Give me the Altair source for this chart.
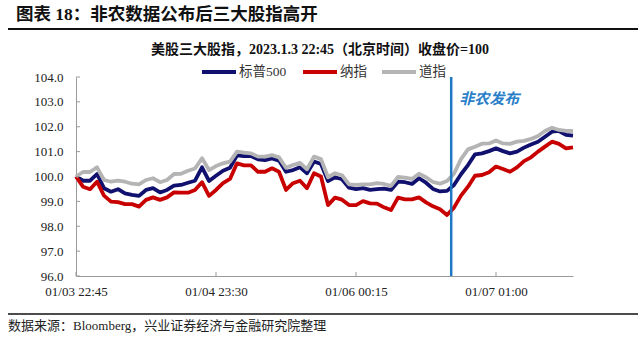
import altair as alt
import pandas as pd

# ---------------- data ----------------
SERIES = ["标普500", "纳指", "道指"]
COLORS = ["#10106e", "#c80000", "#b4b4b4"]

SP500 = [100.0, 99.83, 99.83, 100.10, 99.53, 99.39, 99.49, 99.32, 99.26, 99.22,
         99.46, 99.53, 99.36, 99.46, 99.63, 99.66, 99.75, 99.83, 100.37, 99.82,
         100.03, 100.23, 100.35, 100.85, 100.82, 100.82, 100.69, 100.66, 100.73, 100.64,
         100.19, 100.26, 100.37, 100.13, 100.60, 100.50, 99.82, 99.97, 99.89, 99.55,
         99.49, 99.53, 99.46, 99.49, 99.51, 99.46, 99.79, 99.77, 99.70, 99.93,
         99.75, 99.50, 99.40, 99.42, 99.66, 100.09, 100.46, 100.89, 100.93, 101.02,
         101.13, 101.02, 100.93, 101.00, 101.16, 101.29, 101.40, 101.60, 101.80, 101.83,
         101.67, 101.64]

NASDAQ = [100.0, 99.59, 99.49, 99.79, 99.23, 98.99, 98.97, 98.89, 98.89, 98.79,
          99.06, 99.16, 99.06, 99.16, 99.36, 99.35, 99.35, 99.46, 99.77, 99.22,
          99.46, 99.73, 99.90, 100.53, 100.45, 100.45, 100.19, 100.19, 100.33, 100.19,
          99.46, 99.73, 99.83, 99.53, 100.13, 100.00, 98.85, 99.15, 99.07, 98.85,
          98.85, 99.01, 98.92, 98.91, 98.76, 98.65, 99.15, 99.08, 99.08, 99.16,
          98.96, 98.80, 98.68, 98.45, 98.75, 99.23, 99.59, 100.03, 100.06, 100.17,
          100.40, 100.30, 100.19, 100.37, 100.62, 100.77, 101.00, 101.20, 101.40, 101.31,
          101.13, 101.17]

DOW = [100.0, 100.18, 100.18, 100.37, 99.86, 99.79, 99.83, 99.79, 99.71, 99.68,
       99.86, 99.93, 99.77, 99.86, 100.10, 100.11, 100.23, 100.32, 100.73, 100.26,
       100.42, 100.53, 100.60, 101.00, 100.96, 100.93, 100.80, 100.80, 100.86, 100.77,
       100.35, 100.46, 100.55, 100.29, 100.80, 100.70, 99.97, 100.13, 100.05, 99.68,
       99.66, 99.68, 99.68, 99.73, 99.70, 99.62, 99.98, 99.95, 99.90, 100.11,
       99.97, 99.78, 99.71, 99.82, 100.11, 100.70, 101.09, 101.20, 101.32, 101.33,
       101.45, 101.33, 101.31, 101.40, 101.43, 101.51, 101.63, 101.83, 101.96, 101.87,
       101.83, 101.83]

X_TICK_POS = [0, 20, 40, 60]
X_TICK_LABELS = ["01/03 22:45", "01/04 23:30", "01/06 00:15", "01/07 01:00"]
Y_TICKS = [96, 97, 98, 99, 100, 101, 102, 103, 104]
RELEASE_X = 53.6
RELEASE_LABEL = "非农发布"
RELEASE_LABEL_Y = 103.1

TITLE = "图表 18：非农数据公布后三大股指高开"
SUBTITLE = "美股三大股指，2023.1.3 22:45（北京时间）收盘价=100"
SOURCE = "数据来源：Bloomberg，兴业证券经济与金融研究院整理"

# legend layout (pixels relative to the plot's left edge)
LEGEND_SYMBOL_X = [126, 227, 306]
LEGEND_SYMBOL_LEN = 34
LEGEND_Y = -5

# ---------------- build ----------------
rows = []
for name, vals in zip(SERIES, [SP500, NASDAQ, DOW]):
    for i, v in enumerate(vals):
        rows.append({"i": i, "series": name, "value": v})
df = pd.DataFrame(rows)

FONT = "Liberation Serif, Noto Sans CJK SC"
AXIS_COLOR = "#9a9a9a"
W, H = 497, 199

label_expr = " : ".join(
    f"datum.value == {p} ? '{t}'" for p, t in zip(X_TICK_POS, X_TICK_LABELS)
) + " : ''"

x_scale = alt.Scale(domain=[0, len(SP500) - 1], nice=False, zero=False)
y_scale = alt.Scale(domain=[Y_TICKS[0], Y_TICKS[-1]], nice=False, zero=False)
color_scale = alt.Scale(domain=SERIES, range=COLORS)

x_axis = alt.Axis(values=X_TICK_POS, labelExpr=label_expr, title=None,
                  grid=False, tickSize=0, labelPadding=9,
                  domainColor=AXIS_COLOR, labelFontSize=13, labelFont=FONT,
                  labelColor="#222222", labelFlush=False, labelOverlap=False)
y_axis = alt.Axis(values=Y_TICKS, format=".1f", title=None, grid=False,
                  tickSize=0, labelPadding=13, domainColor=AXIS_COLOR,
                  labelFontSize=13, labelFont=FONT, labelColor="#222222",
                  labelOverlap=False, labelFlush=False)


def X(field):
    return alt.X(field, scale=x_scale, axis=x_axis, title=None)


def Y(field):
    return alt.Y(field, scale=y_scale, axis=y_axis, title=None)


lines = alt.Chart(df).mark_line(strokeWidth=3.8, strokeJoin="round").encode(
    x=X("i:Q"),
    y=Y("value:Q"),
    color=alt.Color("series:N", scale=color_scale, legend=None),
    order=alt.Order("i:Q"),
)

vline = alt.Chart(pd.DataFrame({"x": [RELEASE_X]})).mark_rule(
    color="#1f78c4", strokeWidth=2.5).encode(x=X("x:Q"))

note = alt.Chart(pd.DataFrame({"x": [RELEASE_X], "y": [RELEASE_LABEL_Y],
                               "t": [RELEASE_LABEL]})).mark_text(
    dx=8, align="left", baseline="middle", fontStyle="italic", fontWeight="bold",
    fontSize=15, font=FONT, color="#2a7fc9").encode(
    x=X("x:Q"), y=Y("y:Q"), text="t:N")

ytick = alt.Chart(pd.DataFrame({"v": Y_TICKS})).mark_rule(color=AXIS_COLOR).encode(
    y=Y("v:Q"), x=alt.value(0), x2=alt.value(4))

xtick = alt.Chart(pd.DataFrame({"p": X_TICK_POS})).mark_rule(color=AXIS_COLOR).encode(
    x=X("p:Q"), y=alt.value(H - 4), y2=alt.value(H))

# manual legend (series names and colours from the lists above)
leg_df = pd.DataFrame({
    "series": SERIES,
    "lx": LEGEND_SYMBOL_X,
    "lx2": [v + LEGEND_SYMBOL_LEN for v in LEGEND_SYMBOL_X],
    "tx": [v + LEGEND_SYMBOL_LEN + 3 for v in LEGEND_SYMBOL_X],
    "ly": [LEGEND_Y] * len(SERIES),
})
leg_sym = alt.Chart(leg_df).mark_rule(strokeWidth=4).encode(
    x=alt.X("lx:Q", scale=None, axis=None), x2="lx2:Q",
    y=alt.Y("ly:Q", scale=None, axis=None),
    color=alt.Color("series:N", scale=color_scale, legend=None))
leg_txt = alt.Chart(leg_df).mark_text(
    align="left", baseline="middle", fontSize=13.5, font=FONT, color="#333333").encode(
    x=alt.X("tx:Q", scale=None, axis=None), y=alt.Y("ly:Q", scale=None, axis=None),
    text="series:N")

one = pd.DataFrame({"t": [0]})
title = alt.Chart(pd.DataFrame({"t": [TITLE]})).mark_text(
    align="left", baseline="middle", fontSize=17.5, fontWeight="bold", font=FONT,
    color="#111111").encode(x=alt.value(-60), y=alt.value(-62), text="t:N")
top_rule = alt.Chart(one).mark_rule(color="#111111", strokeWidth=2).encode(
    x=alt.value(-68), x2=alt.value(562), y=alt.value(-48))
subtitle = alt.Chart(pd.DataFrame({"t": [SUBTITLE]})).mark_text(
    align="center", baseline="middle", fontSize=14, fontWeight="bold", font=FONT,
    color="#111111").encode(x=alt.value(244), y=alt.value(-27), text="t:N")
bottom_rule = alt.Chart(one).mark_rule(color="#111111", strokeWidth=1.5).encode(
    x=alt.value(-68), x2=alt.value(562), y=alt.value(237))
source = alt.Chart(pd.DataFrame({"t": [SOURCE]})).mark_text(
    align="left", baseline="middle", fontSize=13, font=FONT,
    color="#222222").encode(x=alt.value(-68), y=alt.value(249), text="t:N")

chart = alt.layer(
    lines, vline, note, ytick, xtick, leg_sym, leg_txt,
    title, top_rule, subtitle, bottom_rule, source
).properties(
    width=W, height=H,
    autosize=alt.AutoSizeParams(type="none"),
    padding={"left": 76, "top": 77, "right": 640 - 76 - W, "bottom": 340 - 77 - H},
).configure_view(stroke=None)

chart.save("out.html", embed_options={"renderer": "svg", "actions": False})
